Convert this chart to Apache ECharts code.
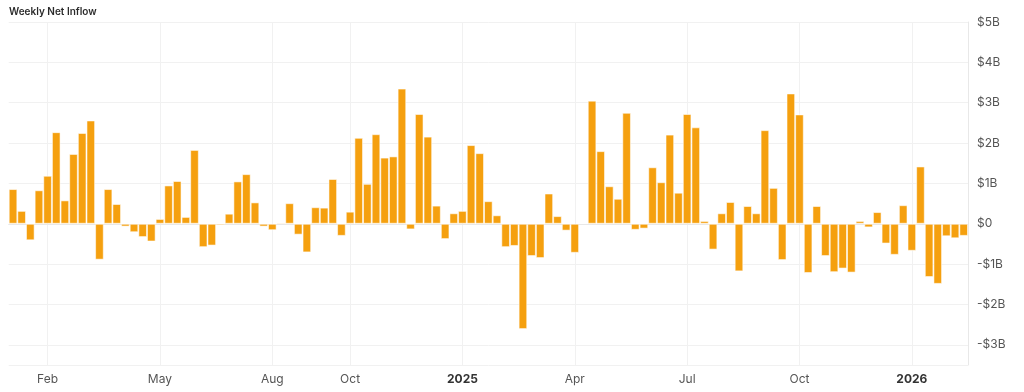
<!DOCTYPE html>
<html>
<head>
<meta charset="utf-8">
<script src="https://cdn.jsdelivr.net/npm/echarts@6/dist/echarts.min.js"></script>
<style>
html,body{margin:0;padding:0;background:#fff;}
#chart{width:1024px;height:392px;}
</style>
</head>
<body>
<div id="chart"></div>
<script>
// Weekly categories (week dates)
const weeks = [
 '2024-01-05','2024-01-12','2024-01-19','2024-01-26','2024-02-02','2024-02-09','2024-02-16','2024-02-23',
 '2024-03-01','2024-03-08','2024-03-15','2024-03-22','2024-03-29','2024-04-05','2024-04-12','2024-04-19','2024-04-26',
 '2024-05-03','2024-05-10','2024-05-17','2024-05-24','2024-05-31','2024-06-07','2024-06-14','2024-06-21','2024-06-28',
 '2024-07-05','2024-07-12','2024-07-19','2024-07-26','2024-08-02','2024-08-09','2024-08-16','2024-08-23','2024-08-30',
 '2024-09-06','2024-09-13','2024-09-20','2024-09-27','2024-10-04','2024-10-11','2024-10-18','2024-10-25',
 '2024-11-01','2024-11-08','2024-11-15','2024-11-22','2024-11-29','2024-12-06','2024-12-13','2024-12-20','2024-12-27',
 '2025-01-03','2025-01-10','2025-01-17','2025-01-24','2025-01-31','2025-02-07','2025-02-14','2025-02-21','2025-02-28',
 '2025-03-07','2025-03-14','2025-03-21','2025-03-28','2025-04-04','2025-04-11','2025-04-18','2025-04-25',
 '2025-05-02','2025-05-09','2025-05-16','2025-05-23','2025-05-30','2025-06-06','2025-06-13','2025-06-20','2025-06-27',
 '2025-07-04','2025-07-11','2025-07-18','2025-07-25','2025-08-01','2025-08-08','2025-08-15','2025-08-22','2025-08-29',
 '2025-09-05','2025-09-12','2025-09-19','2025-09-26','2025-10-03','2025-10-10','2025-10-17','2025-10-24','2025-10-31',
 '2025-11-07','2025-11-14','2025-11-21','2025-11-28','2025-12-05','2025-12-12','2025-12-19','2025-12-26',
 '2026-01-02','2026-01-09','2026-01-16','2026-01-23','2026-01-30','2026-02-06','2026-02-13'
];

// Weekly net inflow, in $B
const netInflow = [
 0.86, 0.32, -0.41, 0.83, 1.19, 2.27, 0.58, 1.73, 2.25, 2.56,
 -0.89, 0.86, 0.49, -0.07, -0.21, -0.33, -0.44, 0.12, 0.95, 1.06,
 0.17, 1.83, -0.58, -0.54, -0.04, 0.25, 1.05, 1.23, 0.53, -0.07,
 -0.16, 0.03, 0.51, -0.27, -0.71, 0.41, 0.40, 1.11, -0.30, 0.30,
 2.13, 0.99, 2.22, 1.64, 1.67, 3.35, -0.14, 2.72, 2.16, 0.45,
 -0.38, 0.26, 0.32, 1.95, 1.75, 0.56, 0.21, -0.58, -0.55, -2.61,
 -0.80, -0.85, 0.75, 0.19, -0.17, -0.72, 0.02, 3.05, 1.80, 0.93,
 0.62, 2.75, -0.15, -0.12, 1.40, 1.03, 2.21, 0.77, 2.72, 2.39,
 0.07, -0.64, 0.26, 0.54, -1.18, 0.44, 0.26, 2.32, 0.89, -0.90,
 3.23, 2.71, -1.22, 0.44, -0.80, -1.20, -1.11, -1.21, 0.07, -0.09,
 0.29, -0.49, -0.77, 0.46, -0.67, 1.42, -1.32, -1.49, -0.31, -0.36,
 -0.30
];

// X tick labels (week -> label)
const tickWeeks  = ['2024-02-02','2024-05-03','2024-08-02','2024-10-04','2025-01-03','2025-04-04','2025-07-04','2025-10-03','2026-01-02'];
const tickLabels = ['Feb','May','Aug','Oct','2025','Apr','Jul','Oct','2026'];
const yearLabels = ['2025','2026'];

const tickMap = {};
tickWeeks.forEach((w, i) => { tickMap[w] = tickLabels[i]; });
const isTick = (idx) => tickMap[weeks[idx]] !== undefined;

const chart = echarts.init(document.getElementById('chart'), null, {renderer: 'canvas'});
chart.setOption({
  animation: false,
  backgroundColor: '#ffffff',
  title: {
    text: 'Weekly Net Inflow',
    left: 4, top: 2,
    textStyle: {fontFamily: 'Inter', fontSize: 10, fontWeight: 600, color: '#2b2b2b'}
  },
  grid: {left: 8.7, right: 56, top: 22, bottom: 27, containLabel: false},
  xAxis: {
    type: 'category',
    data: weeks,
    boundaryGap: true,
    axisLine: {show: true, lineStyle: {color: '#e8e8e8'}},
    axisTick: {show: false},
    splitLine: {
      show: true,
      alignWithLabel: true,
      interval: (idx) => isTick(idx),
      lineStyle: {color: '#f1f1f1', width: 1}
    },
    axisLabel: {
      interval: (idx) => isTick(idx),
      margin: 8,
      fontFamily: 'Inter', fontSize: 12, color: '#555',
      formatter: (v) => {
        const l = tickMap[v];
        if (l === undefined) return '';
        return yearLabels.indexOf(l) >= 0 ? '{b|' + l + '}' : l;
      },
      rich: {b: {fontFamily: 'Inter', fontSize: 12, fontWeight: 700, color: '#333'}}
    }
  },
  yAxis: {
    type: 'value',
    position: 'right',
    min: -3.5, max: 5,
    splitNumber: 8,
    minInterval: 1, maxInterval: 1,
    axisLine: {show: true, lineStyle: {color: '#e8e8e8'}},
    axisTick: {show: false},
    splitLine: {show: true, lineStyle: {color: '#f1f1f1', width: 1}},
    axisLabel: {
      margin: 9,
      fontFamily: 'Inter', fontSize: 12, color: '#555',
      formatter: (v) => {
        if (Math.abs(v - Math.round(v)) > 1e-6) return '';
        if (v === 0) return '$0';
        return v < 0 ? '-$' + (-v) + 'B' : '$' + v + 'B';
      }
    }
  },
  series: [{
    type: 'bar',
    data: netInflow,
    barCategoryGap: '0%',
    itemStyle: {color: '#F5A00F', borderColor: 'rgba(255,255,255,0.55)', borderWidth: 1}
  }]
});
</script>
</body>
</html>
